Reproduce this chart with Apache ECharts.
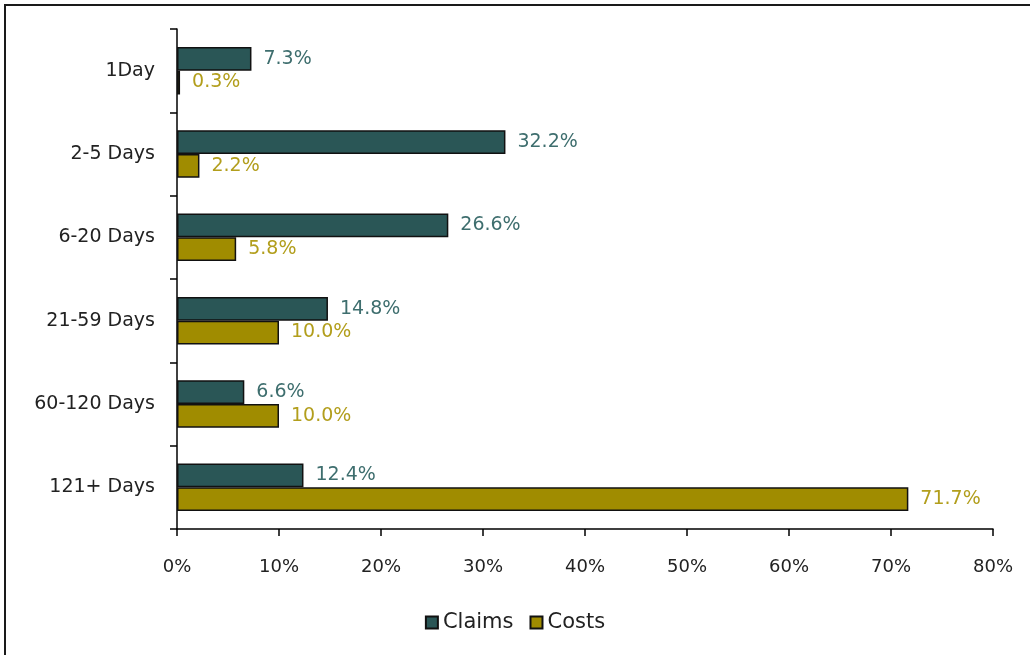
<!DOCTYPE html>
<html>
<head>
<meta charset="utf-8">
<script src="https://cdn.jsdelivr.net/npm/echarts@6/dist/echarts.min.js"></script>
<style>
  html, body { margin: 0; padding: 0; background: #fff; }
  #main { width: 1030px; height: 655px; }
</style>
</head>
<body>
<div id="main"></div>
<script>
// data
var categories = ['1Day', '2-5 Days', '6-20 Days', '21-59 Days', '60-120 Days', '121+ Days'];
var claims = [7.3, 32.2, 26.6, 14.8, 6.6, 12.4];
var costs = [0.3, 2.2, 5.8, 10.0, 10.0, 71.7];

var fontFam = '"DejaVu Sans", sans-serif';

var option = {
    backgroundColor: '#fff',
    animation: false,
    graphic: [{
        type: 'rect',
        shape: { x: 5, y: 5, width: 1200, height: 1000 },
        style: { fill: 'none', stroke: '#1a1a1a', lineWidth: 2 }
    }],
    legend: {
        bottom: 17,
        left: 'center',
        itemWidth: 12,
        itemHeight: 12,
        itemGap: 16,
        icon: 'rect',
        textStyle: { fontFamily: fontFam, fontSize: 21, color: '#222' },
        data: ['Claims', 'Costs']
    },
    grid: {
        left: 177,
        top: 29,
        width: 816,
        height: 500,
        containLabel: false
    },
    xAxis: {
        type: 'value',
        min: 0,
        max: 80,
        interval: 10,
        splitLine: { show: false },
        axisLine: { show: true, lineStyle: { color: '#000', width: 1.5 } },
        axisTick: { show: true, length: 7, lineStyle: { color: '#000', width: 1.5 } },
        axisLabel: {
            formatter: '{value}%',
            margin: 29,
            fontFamily: fontFam, fontSize: 18, color: '#222'
        }
    },
    yAxis: {
        type: 'category',
        inverse: true,
        data: categories,
        axisLine: { show: true, lineStyle: { color: '#000', width: 1.5 } },
        axisTick: { show: true, length: 7, lineStyle: { color: '#000', width: 1.5 } },
        axisLabel: { margin: 22, fontFamily: fontFam, fontSize: 19, color: '#222' }
    },
    series: [
        {
            name: 'Claims',
            type: 'bar',
            data: claims,
            barGap: '0%',
            barCategoryGap: '43%',
            itemStyle: { color: '#2a5656', borderColor: '#111', borderWidth: 1.5 },
            label: {
                show: true,
                position: 'right',
                distance: 12,
                formatter: function (p) { return p.value.toFixed(1) + '%'; },
                fontFamily: fontFam, fontSize: 19, color: '#3e6e6e'
            }
        },
        {
            name: 'Costs',
            type: 'bar',
            data: costs,
            itemStyle: { color: '#a08c00', borderColor: '#111', borderWidth: 1.5 },
            label: {
                show: true,
                position: 'right',
                distance: 12,
                formatter: function (p) { return p.value.toFixed(1) + '%'; },
                fontFamily: fontFam, fontSize: 19, color: '#b29e1c'
            }
        }
    ]
};

var myChart = echarts.init(document.getElementById('main'));
myChart.setOption(option);
</script>
</body>
</html>
